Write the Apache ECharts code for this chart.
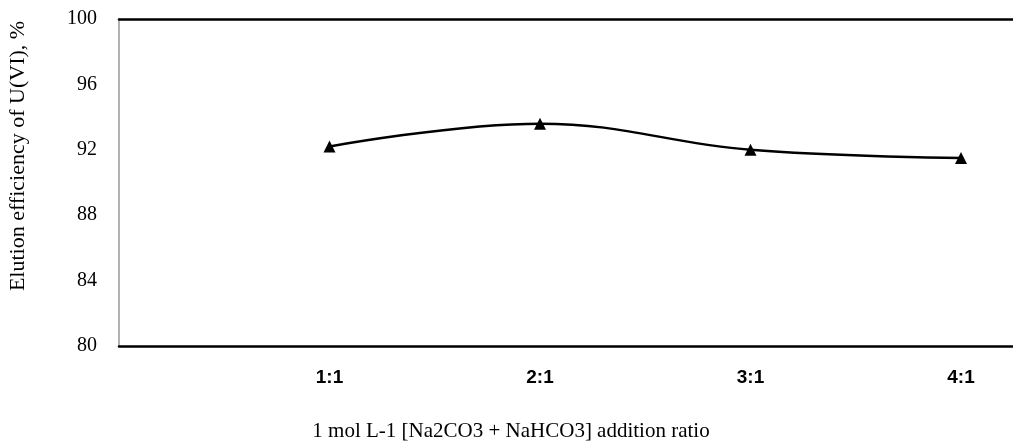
<!DOCTYPE html>
<html>
<head>
<meta charset="utf-8">
<script src="https://cdn.jsdelivr.net/npm/echarts@6/dist/echarts.min.js"></script>
<style>html,body{margin:0;padding:0;background:#fff}#c{width:1013px;height:442px}</style>
</head>
<body>
<div id="c"></div>
<script>
const ratioLabels = ['1:1', '2:1', '3:1', '4:1'];
const ratioPositions = [1, 2, 3, 4];
const elution = [92.2, 93.6, 92.0, 91.5];
const yTicks = [80, 84, 88, 92, 96, 100];
const xTitle = '1 mol L-1 [Na2CO3 + NaHCO3] addition ratio';
const yTitle = 'Elution efficiency of U(VI), %';

const chart = echarts.init(document.getElementById('c'));
chart.setOption({
  animation: false,
  backgroundColor: '#fff',
  grid: { left: 119, right: 0, top: 19, bottom: 96 },
  graphic: [
    { type: 'text', x: 511, y: 431, style: { text: xTitle, font: '21px "Liberation Serif"', fill: '#000', align: 'center', verticalAlign: 'middle' } },
    { type: 'text', x: 18, y: 156, rotation: Math.PI / 2, style: { text: yTitle, font: '22px "Liberation Serif"', fill: '#000', align: 'center', verticalAlign: 'middle' } }
  ],
  xAxis: [{
    type: 'value', min: 0, max: 4.247, interval: 1,
    position: 'bottom',
    axisLine: { show: true, lineStyle: { color: '#000', width: 2.5 } },
    axisTick: { show: false },
    splitLine: { show: false },
    axisLabel: {
      margin: 22, fontFamily: '"Liberation Sans", sans-serif', fontWeight: 'bold', fontSize: 19, color: '#000',
      showMaxLabel: false,
      formatter: v => { const i = ratioPositions.indexOf(v); return i >= 0 ? ratioLabels[i] : ''; }
    }
  }, {
    type: 'value', min: 0, max: 4.247, position: 'top',
    axisLine: { show: true, lineStyle: { color: '#000', width: 2.5 } },
    axisTick: { show: false }, axisLabel: { show: false }, splitLine: { show: false }
  }],
  yAxis: {
    type: 'value', min: yTicks[0], max: yTicks[yTicks.length - 1], interval: 4,
    axisLine: { show: true, lineStyle: { color: '#999', width: 1.5 } },
    axisTick: { show: false },
    splitLine: { show: false },
    axisLabel: { margin: 22, fontFamily: 'Liberation Serif', fontSize: 20, color: '#000' }
  },
  series: [{
    type: 'line',
    data: ratioPositions.map((x, i) => [x, elution[i]]),
    smooth: 0.4,
    symbol: 'triangle', symbolSize: 12,
    itemStyle: { color: '#000' },
    lineStyle: { color: '#000', width: 2.5 }
  }]
});
</script>
</body>
</html>
